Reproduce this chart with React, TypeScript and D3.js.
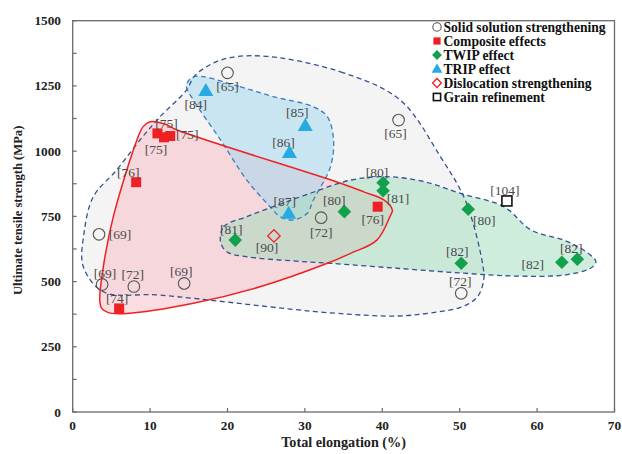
import React from "react";
import * as d3 from "d3";

// ---------- data ----------
type Pt = { x: number; y: number; ref: string };

const solidSolution: Pt[] = [
  { x: 20.0, y: 1300, ref: "[65]" },
  { x: 42.1, y: 1119, ref: "[65]" },
  { x: 3.4, y: 681, ref: "[69]" },
  { x: 3.8, y: 489, ref: "[69]" },
  { x: 7.9, y: 481, ref: "[72]" },
  { x: 14.4, y: 493, ref: "[69]" },
  { x: 32.1, y: 745, ref: "[72]" },
  { x: 50.2, y: 455, ref: "[72]" },
];
const composite: Pt[] = [
  { x: 10.95, y: 1068, ref: "[75]" },
  { x: 12.6, y: 1058, ref: "[75]" },
  { x: 11.8, y: 1053, ref: "[75]" },
  { x: 8.2, y: 881, ref: "[76]" },
  { x: 6.0, y: 397, ref: "[74]" },
  { x: 39.4, y: 787, ref: "[76]" },
];
const twip: Pt[] = [
  { x: 40.1, y: 879, ref: "[80]" },
  { x: 40.1, y: 848, ref: "[81]" },
  { x: 35.1, y: 768, ref: "[80]" },
  { x: 21.0, y: 659, ref: "[81]" },
  { x: 51.1, y: 777, ref: "[80]" },
  { x: 50.2, y: 570, ref: "[82]" },
  { x: 63.2, y: 574, ref: "[82]" },
  { x: 65.2, y: 586, ref: "[82]" },
];
const trip: Pt[] = [
  { x: 17.2, y: 1231, ref: "[84]" },
  { x: 30.05, y: 1097, ref: "[85]" },
  { x: 28.0, y: 994, ref: "[86]" },
  { x: 27.9, y: 761, ref: "[87]" },
];
const dislocation: Pt[] = [{ x: 26.0, y: 675, ref: "[90]" }];
const grain: Pt[] = [{ x: 56.1, y: 809, ref: "[104]" }];

// region outlines (data units)
const regionSolid: [number, number][] = [
  [24.3, 1365], [34.6, 1304], [42.3, 1196], [47.5, 979], [50.8, 806],
  [53.0, 560], [53.1, 505], [52.3, 442], [50.4, 404], [46.3, 380],
  [41.9, 368], [33.3, 380], [11.3, 448], [3.96, 461], [1.37, 557],
  [1.46, 685], [2.66, 825], [5.69, 928], [8.7, 1043], [11.3, 1132],
  [14.7, 1234], [15.8, 1290], [19.1, 1349],
];
const regionTrip: [number, number][] = [
  [15.6, 1285], [21.6, 1247], [25.9, 1209], [31.1, 1170], [32.9, 1132],
  [33.7, 1043], [33.3, 940], [31.1, 813], [30.3, 762], [28.5, 736],
  [26.8, 749], [25.5, 787], [22.5, 889], [19.1, 1043], [15.6, 1196],
  [14.7, 1250],
];
const regionTwip: [number, number][] = [
  [19.1, 653], [19.5, 710], [22.5, 749], [25.9, 787], [30.1, 832],
  [35.9, 889], [40.6, 902], [45.4, 883], [50.1, 838], [55.7, 787],
  [59.2, 698], [63.4, 659], [66.0, 621], [67.6, 576], [66.9, 551],
  [63.4, 525], [57.4, 521], [50.5, 532], [41.9, 551], [33.3, 570],
  [28.5, 579], [22.5, 595], [19.9, 614],
];
const regionComposite: [number, number][] = [
  [10.0, 1113], [11.9, 1104], [13.5, 1081], [34.6, 877], [37.6, 844],
  [40.2, 813], [41.3, 774], [41.0, 750], [39.3, 659], [35.9, 608],
  [32.9, 570], [24.2, 480], [15.6, 417], [7.0, 378], [4.6, 381],
  [3.75, 397], [3.5, 429], [3.96, 557], [5.25, 749], [8.3, 1043],
  [9.1, 1094],
];

const xTicks = [0, 10, 20, 30, 40, 50, 60, 70];
const yTicks = [0, 250, 500, 750, 1000, 1250, 1500];
const yMinorTicks = [125, 375, 625, 875, 1125, 1375];
const legendLabels = [
  "Solid solution strengthening",
  "Composite effects",
  "TWIP effect",
  "TRIP effect",
  "Dislocation strengthening",
  "Grain refinement",
];

// label placement offsets (px), parallel to the series arrays
const offSolid = [[0, 14], [-3, 13], [21, 0], [3, -11], [-1, -12], [-3, -12], [0, 15], [-1, -12]];
const offComposite = [[9, -10], [17, -2], [-8, 12], [-8, -10], [-2, -10], [-5, 13]];
const offTwip = [[-6, -10], [15, 8], [-10, -11], [-4, -11], [16, 11], [-4, -12], [-29, 2], [-6, -11]];
const offTrip = [[-10, 14], [-8, -13], [-6, -10], [-4, -12]];
const offDisl = [[-7, 12]];
const offGrain = [[-2, -10]];

// ---------- layout ----------
const W = 622;
const H = 454;
const x0 = 72.7, x1 = 614.5, yTop = 20.7, yBot = 412;

const serif = "Liberation Serif, Times New Roman, serif";

const RED = "#ee2024";
const GREEN = "#12a04c";
const BLUE = "#27a9e1";

type Shape = "circle" | "square" | "diamond" | "triangle" | "odiamond" | "osquare";

function Marker({ shape, cx, cy, s = 1 }: { shape: Shape; cx: number; cy: number; s?: number }) {
  switch (shape) {
    case "circle":
      return <circle cx={cx} cy={cy} r={5.8 * s} fill="none" stroke="#555" strokeWidth={1.1} />;
    case "square":
      return <rect x={cx - 5 * s} y={cy - 5 * s} width={10 * s} height={10 * s} fill={RED} />;
    case "diamond": {
      const r = 6.8 * s;
      return <path d={`M${cx},${cy - r}L${cx + r},${cy}L${cx},${cy + r}L${cx - r},${cy}Z`} fill={GREEN} />;
    }
    case "odiamond": {
      const r = 6.2 * s;
      return (
        <path d={`M${cx},${cy - r}L${cx + r},${cy}L${cx},${cy + r}L${cx - r},${cy}Z`} fill="none" stroke={RED} strokeWidth={1.3} />
      );
    }
    case "triangle": {
      const w = 7.5 * s, h = 13 * s;
      return <path d={`M${cx},${cy - h * 0.6}L${cx + w},${cy + h * 0.4}L${cx - w},${cy + h * 0.4}Z`} fill={BLUE} />;
    }
    case "osquare":
      return (
        <rect x={cx - 5 * s} y={cy - 5 * s} width={10 * s} height={10 * s} fill="none" stroke="#111" strokeWidth={1.6} />
      );
  }
  return null;
}

export default function App() {
  const x = d3.scaleLinear().domain([0, 70]).range([x0, x1]);
  const y = d3.scaleLinear().domain([0, 1500]).range([yBot, yTop]);
  const area = d3
    .line<[number, number]>()
    .x((d) => x(d[0]))
    .y((d) => y(d[1]))
    .curve(d3.curveCatmullRomClosed.alpha(0.5));

  const series: { data: Pt[]; shape: Shape; off: number[][] }[] = [
    { data: solidSolution, shape: "circle", off: offSolid },
    { data: composite, shape: "square", off: offComposite },
    { data: twip, shape: "diamond", off: offTwip },
    { data: trip, shape: "triangle", off: offTrip },
    { data: dislocation, shape: "odiamond", off: offDisl },
    { data: grain, shape: "osquare", off: offGrain },
  ];
  const legendShapes: Shape[] = ["circle", "square", "diamond", "triangle", "odiamond", "osquare"];

  return (
    <svg width={W} height={H} style={{ position: "absolute", left: 0, top: 0, background: "#fff" }}>
      {/* region fills */}
      <path d={area(regionSolid) || ""} fill="#ececec" fillOpacity={0.6} />
      <path d={area(regionComposite) || ""} fill="#f7b9c1" fillOpacity={0.5} />
      <path d={area(regionTrip) || ""} fill="#a5d8ef" fillOpacity={0.55} />
      <path d={area(regionTwip) || ""} fill="#9fdcbc" fillOpacity={0.5} />
      {/* region outlines */}
      <path d={area(regionSolid) || ""} fill="none" stroke="#34508f" strokeWidth={1.3} strokeDasharray="5,3.5" />
      <path d={area(regionTrip) || ""} fill="none" stroke="#3d7cc0" strokeWidth={1.3} strokeDasharray="5,3.5" />
      <path d={area(regionTwip) || ""} fill="none" stroke="#34508f" strokeWidth={1.3} strokeDasharray="5,3.5" />
      <path d={area(regionComposite) || ""} fill="none" stroke={RED} strokeWidth={1.5} />

      {/* frame */}
      <rect x={x0} y={yTop} width={x1 - x0} height={yBot - yTop} fill="none" stroke="#6a6a6a" strokeWidth={1.3} />
      {xTicks.map((t) => (
        <line key={"xt" + t} x1={x(t)} x2={x(t)} y1={yBot} y2={yBot - 4} stroke="#6a6a6a" strokeWidth={1.2} />
      ))}
      {[...yTicks, ...yMinorTicks].map((t) => (
        <line key={"yt" + t} x1={x0} x2={x0 + 4} y1={y(t)} y2={y(t)} stroke="#6a6a6a" strokeWidth={1.2} />
      ))}
      {xTicks.map((t) => (
        <text key={"xl" + t} x={x(t)} y={yBot + 18} textAnchor="middle" style={{ fontFamily: serif }} fontWeight="bold" fontSize={13.3} fill="#222">
          {t}
        </text>
      ))}
      {yTicks.map((t) => (
        <text key={"yl" + t} x={61} y={y(t) + 4.5} textAnchor="end" style={{ fontFamily: serif }} fontWeight="bold" fontSize={13.3} fill="#222">
          {t}
        </text>
      ))}
      <text x={(x0 + x1) / 2} y={447} textAnchor="middle" style={{ fontFamily: serif }} fontWeight="bold" fontSize={14.2} fill="#222">
        Total elongation (%)
      </text>
      <text
        transform={`translate(22,${(yTop + yBot) / 2 - 6}) rotate(-90)`}
        textAnchor="middle"
        style={{ fontFamily: serif }}
        fontWeight="bold"
        fontSize={12.6}
        fill="#222"
      >
        Ultimate tensile strength (MPa)
      </text>

      {/* markers */}
      {series.map((s, si) =>
        s.data.map((p, i) => <Marker key={`m${si}-${i}`} shape={s.shape} cx={x(p.x)} cy={y(p.y)} />)
      )}
      {/* reference labels */}
      {series.map((s, si) =>
        s.data.map((p, i) => (
          <text
            key={`l${si}-${i}`}
            x={x(p.x) + s.off[i][0]}
            y={y(p.y) + s.off[i][1] + 4.5}
            textAnchor="middle"
            style={{ fontFamily: serif }}
            fontSize={13.5}
            fill="#4a4a4a"
          >
            {p.ref}
          </text>
        ))
      )}

      {/* legend */}
      {legendLabels.map((lab, i) => {
        const ly = 27 + i * 14;
        return (
          <g key={"lg" + i}>
            <Marker shape={legendShapes[i]} cx={437} cy={ly} s={0.72} />
            <text x={443.5} y={ly + 4.5} style={{ fontFamily: serif }} fontWeight="bold" fontSize={13.6} fill="#111">
              {lab}
            </text>
          </g>
        );
      })}
    </svg>
  );
}
